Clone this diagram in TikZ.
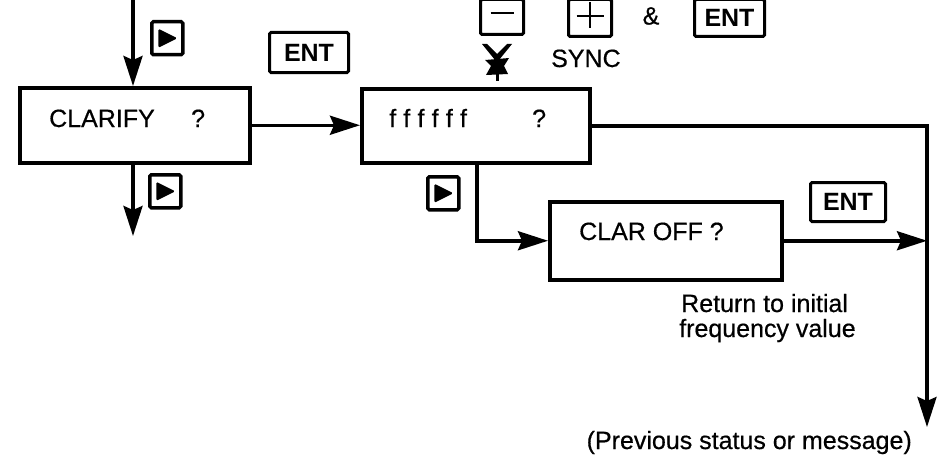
\documentclass[tikz,border=0pt]{standalone}
\usepackage{fontspec}
\setmainfont{Liberation Sans}
\newfontfamily\heavysans{Liberation Sans}[FakeBold=0.5]
\usetikzlibrary{arrows.meta,calc}
\tikzset{
  panel/.style={draw, line width=3.5pt, inner sep=0pt, anchor=north west},
  keybox/.style={draw, line width=3pt, inner sep=0pt, anchor=north west, rounded corners=1.5pt},
  playkey/.style={keybox, line width=3.5pt, minimum width=31pt, minimum height=33pt,
    path picture={\fill ($(path picture bounding box.center)+(-9pt,9.5pt)$) -- ($(path picture bounding box.center)+(-9pt,-9.5pt)$) -- ($(path picture bounding box.center)+(10pt,0pt)$) -- cycle;}},
  entkey/.style={keybox, font=\fontsize{25}{30}\selectfont\bfseries},
  lbl/.style={anchor=base west, inner sep=0pt, font=\heavysans\fontsize{25}{30}\selectfont},
  lble/.style={lbl, anchor=base east},
  conn/.style={line width=3.5pt},
  arr/.style={conn, -{Stealth[length=30pt,width=19pt,inset=4pt]}}
}
\begin{document}
\begin{tikzpicture}[x=1pt,y=-1pt]
\useasboundingbox (0,0) rectangle (939,460);
% boxes
\node[panel, minimum width=230pt, minimum height=75pt] (clarify) at (18,86) {};
\node[panel, minimum width=228pt, minimum height=74pt] (ffff) at (360,87) {};
\node[panel, minimum width=232pt, minimum height=78pt] (claroff) at (548,200) {};
% box texts
\node[lbl] (tclar) at (49,127) {CLARIFY};
\node[lbl] (qclar) at (191,127) {?};
\node[lbl] (tfff) at (389,127) {f\kern7.2pt f\kern7.2pt f\kern7.2pt f\kern7.2pt f\kern7.2pt f};
\node[lbl] (qfff) at (532,127) {?};
\node[lbl] (tcoff) at (579,240) {CLAR OFF ?};
% keys
\node[playkey] (play1) at (150,20) {};
\node[playkey] (play2) at (148,173) {};
\node[playkey] (play3) at (426,175) {};
\node[entkey, minimum width=79pt, minimum height=40pt] (ent1) at (268,31) {ENT};
\node[entkey, minimum width=75pt, minimum height=39pt] (ent2) at (809,181) {ENT};
\node[entkey, minimum width=70pt, minimum height=37pt] (ent3) at (693,-2) {ENT};
\node[keybox, minimum width=43pt, minimum height=35pt] (minus) at (479,-2) {};
\node[keybox, minimum width=43pt, minimum height=37pt] (plus) at (567,-2) {};
\draw[line width=2pt] ($(minus.center)+(-11.5pt,4pt)$) -- ($(minus.center)+(11.5pt,4pt)$);
\draw[line width=2pt] ($(plus.center)+(-13.5pt,1.5pt)$) -- ($(plus.center)+(13.5pt,1.5pt)$);
\draw[line width=2pt] ($(plus.center)+(0pt,16pt)$) -- ($(plus.center)+(0pt,-10pt)$);
\node[lbl, anchor=center] (amp) at (651,16) {\&};
% knob symbol
\coordinate (knob) at (497,57);
\fill (482,44) -- (487,44) -- (497,54) -- (507,44) -- (512,44) -- (499,60) -- (495,60) -- cycle;
\fill (485,60) -- (509,58) -- (504,66) -- (508,74) -- (486,75) -- (491,66) -- cycle;
\draw[line width=3pt] (497,74) -- (497,81);
\node[lbl] (sync) at (551,67) {SYNC};
% annotations
\node[lbl] (ret1) at (681,312) {Return to initial};
\node[lbl] (ret2) at (679,337) {frequency value};
\node[lble] (prev) at (912,449) {(Previous status or message)};
% connectors
\coordinate (in) at (133,0);
\coordinate (out1) at (133,236);
\coordinate (brx) at (477,0);
\coordinate (endpt) at (927,427);
\draw[arr] (in) -- (in |- clarify.north);
\draw[arr] (clarify.south -| out1) -- (out1);
\draw[arr] (clarify.east) -- (clarify.east -| ffff.west);
\draw[arr] (ffff.east) -| (endpt);
\draw[arr] (ffff.south -| brx) |- (claroff.west);
\draw[arr] (claroff.east) -- (claroff.east -| endpt);
\end{tikzpicture}
\end{document}
